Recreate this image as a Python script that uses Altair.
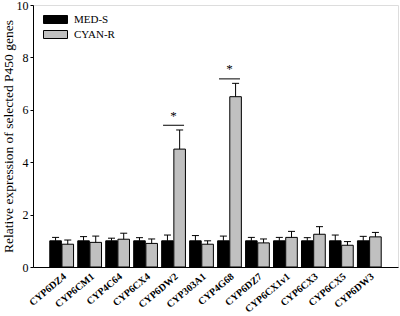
import altair as alt
import pandas as pd

genes = ["CYP6DZ4", "CYP6CM1", "CYP4C64", "CYP6CX4", "CYP6DW2", "CYP303A1",
         "CYP4G68", "CYP6DZ7", "CYP6CX1v1", "CYP6CX3", "CYP6CX5", "CYP6DW3"]
med_s = [1.0, 1.0, 1.0, 1.0, 1.0, 1.0, 1.0, 1.0, 1.0, 1.0, 1.0, 1.0]
med_s_err = [0.13, 0.16, 0.10, 0.12, 0.22, 0.20, 0.18, 0.13, 0.13, 0.12, 0.22, 0.17]
cyan_r = [0.87, 0.94, 1.06, 0.90, 4.50, 0.87, 6.50, 0.92, 1.13, 1.25, 0.83, 1.15]
cyan_r_err = [0.16, 0.24, 0.23, 0.17, 0.73, 0.13, 0.51, 0.15, 0.23, 0.29, 0.14, 0.17]
groups = ["MED-S", "CYAN-R"]
sig_genes = ["CYP6DW2", "CYP4G68"]
sig_line = [5.41, 7.18]
sig_star = [5.77, 7.55]

rows = []
for i, g in enumerate(genes):
    rows.append({"gene": g, "group": groups[0], "value": med_s[i], "upper": med_s[i] + med_s_err[i]})
    rows.append({"gene": g, "group": groups[1], "value": cyan_r[i], "upper": cyan_r[i] + cyan_r_err[i]})
df = pd.DataFrame(rows)
sig = pd.DataFrame({"gene": sig_genes, "line": sig_line, "star": sig_star, "label": ["*", "*"]})

FONT = "Liberation Serif"

x_enc = alt.X("gene:N", sort=genes, title=None,
              scale=alt.Scale(paddingInner=0.15, paddingOuter=0.6),
              axis=alt.Axis(labelAngle=-40, labelFont=FONT, labelFontWeight="bold",
                            labelFontSize=10, labelColor="black", ticks=False,
                            domainColor="black", labelPadding=4))
xo_enc = alt.XOffset("group:N", sort=groups, scale=alt.Scale(paddingInner=0.05))
y_scale = alt.Scale(domain=[0, 10])

bars = alt.Chart(df).mark_bar(stroke="black", strokeWidth=1).encode(
    x=x_enc,
    xOffset=xo_enc,
    y=alt.Y("value:Q", scale=y_scale, title="Relative expression of selected P450 genes",
            axis=alt.Axis(values=[0, 2, 4, 6, 8, 10], grid=False, tickSize=3,
                          labelFont=FONT, labelFontSize=12, labelColor="black",
                          titleFont=FONT, titleFontSize=13.5, titleFontWeight="normal",
                          titleColor="black", domainColor="black", tickColor="black",
                          labelPadding=2, titlePadding=1)),
    color=alt.Color("group:N", sort=groups,
                    scale=alt.Scale(domain=groups, range=["#000000", "#c0c0c0"]),
                    legend=alt.Legend(title=None, orient="none", legendX=17, legendY=9,
                                      symbolType="M-3,-1L3,-1L3,1L-3,1Z", symbolSize=64,
                                      symbolStrokeColor="black", symbolStrokeWidth=1,
                                      symbolOpacity=1, labelFont=FONT, labelFontSize=11,
                                      labelColor="black", labelOffset=13, rowPadding=2,
                                      padding=0)),
)

err_rule = alt.Chart(df).mark_rule(color="black", strokeWidth=1).encode(
    x=alt.X("gene:N", sort=genes), xOffset=xo_enc,
    y=alt.Y("value:Q", scale=y_scale), y2="upper:Q")
err_cap = alt.Chart(df).mark_tick(color="black", thickness=1, size=7, opacity=1).encode(
    x=alt.X("gene:N", sort=genes), xOffset=xo_enc,
    y=alt.Y("upper:Q", scale=y_scale))

sig_tick = alt.Chart(sig).mark_tick(color="black", thickness=1, size=21, opacity=1).encode(
    x=alt.X("gene:N", sort=genes), y=alt.Y("line:Q", scale=y_scale))
sig_text = alt.Chart(sig).mark_text(font=FONT, fontSize=13, color="black", baseline="middle").encode(
    x=alt.X("gene:N", sort=genes), y=alt.Y("star:Q", scale=y_scale), text="label:N")

chart = alt.layer(bars, err_rule, err_cap, sig_tick, sig_text).properties(
    width=365, height=262,
    autosize=alt.AutoSizeParams(type="none"),
    padding={"left": 33, "top": 5, "right": 2, "bottom": 49},
).configure_view(stroke=None).configure(background="white")

chart.save("out.html", embed_options={"renderer": "svg", "actions": False})
